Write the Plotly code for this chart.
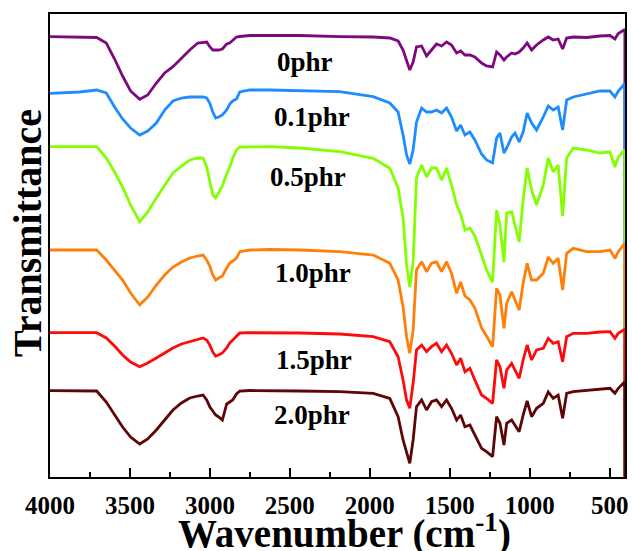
import plotly.graph_objects as go

# Wavenumber grid (cm^-1), shared by all spectra
wavenumber = [4000, 3940, 3815, 3708, 3648, 3596, 3546, 3496, 3439, 3389,
              3335, 3283, 3231, 3178, 3126, 3076, 3043, 3020, 3001, 2982,
              2964, 2945, 2922, 2895, 2876, 2857, 2834, 2813, 2751, 2626,
              2438, 2188, 1979, 1875, 1823, 1792, 1770, 1750, 1729, 1708,
              1676, 1645, 1614, 1583, 1551, 1520, 1489, 1457, 1432, 1405,
              1374, 1343, 1301, 1270, 1232, 1207, 1186, 1161, 1144, 1113,
              1092, 1066, 1041, 1016, 988, 957, 915, 884, 853, 822,
              794, 769, 728, 644, 561, 498, 467, 446, 405, 403]

# Offset transmittance values (arbitrary units)
t_0phr = [440.3, 440, 440, 439.5, 434, 418, 401, 386, 377.7, 382,
          394, 404, 410.3, 419, 427, 434, 435, 435, 430.3, 427,
          427, 427, 428, 433, 434, 437, 440, 440.5, 441.5, 441.5,
          441.5, 440.3, 440, 439, 436, 427, 417, 407, 415, 430,
          431, 421, 427, 433, 431, 435, 432, 424, 426, 422,
          422, 420, 414, 411, 410, 425, 422, 417, 420, 424,
          423, 425, 429, 434, 427, 432, 437, 440, 437, 438,
          428, 439, 440, 439.5, 441, 441.5, 438, 443.5, 447.5, -60]
t_01phr = [383.7, 384, 385, 387, 384, 370, 358, 349, 342, 346,
           354, 367, 376, 379, 380, 380, 380, 379, 374, 365,
           359, 360, 362, 367, 373, 376, 378, 385, 387, 387,
           386.5, 385.3, 380.3, 374, 365, 342, 322, 313, 327, 355,
           369, 365, 365, 367, 364, 369, 360, 346, 352, 342,
           345, 337, 323, 317, 314, 339, 344, 324, 329, 340,
           344, 335, 345, 364, 354, 347, 360, 371, 367, 370,
           347, 377, 380, 383, 386, 386, 380, 386, 393.5, -60]
t_05phr = [330.3, 330.3, 330.3, 330.3, 319, 305, 290, 272, 255.3, 265,
           279, 292, 304, 311, 317, 319, 319, 310, 297, 282,
           279, 284, 291, 303, 310, 319, 327, 330, 330.3, 330.3,
           329, 325.3, 318.7, 308.7, 289, 259, 212, 190, 215, 299,
           312, 300, 309, 309, 297, 309, 292, 272, 263, 247,
           249, 241, 222, 207, 195, 267, 252, 215, 264, 265,
           252, 235, 277, 309, 287, 272, 292, 319, 305, 312,
           261, 319, 329, 327, 324, 325, 310, 320, 327, -60]
t_10phr = [227, 227, 227, 227, 217, 207, 197, 184, 172, 180,
           192, 202, 210, 215, 219, 221, 222, 217, 211, 202,
           197, 199, 201, 209, 214, 216, 219, 225.3, 227, 227.5,
           227, 225.3, 222, 213.7, 197, 170.3, 140.3, 123.7, 147, 207,
           215.3, 205.3, 213.7, 215, 205.3, 215.3, 203.7, 183.7, 195, 181,
           177, 169, 149, 141, 130.3, 188.7, 182, 148.7, 173.7, 185.3,
           177, 167, 193.7, 213.7, 197, 197, 203.7, 220, 213.7, 218.7,
           187, 223.7, 228.7, 225.3, 225.3, 227, 218.7, 225.3, 233.7, -60]
t_15phr = [144.3, 144.3, 144.3, 144.3, 139, 131, 122, 115, 110.3, 114,
           119, 124, 129, 133, 135.3, 138, 139, 137, 132, 125,
           121, 122, 124, 129, 134, 137, 141, 144, 144.3, 144.3,
           144, 143, 140.3, 135.3, 120.3, 97, 77, 68.7, 93.7, 127,
           132, 125.3, 130.3, 133.7, 125.3, 132, 123.7, 112, 118.7, 105.3,
           108.7, 97, 82, 78.7, 73.7, 117, 110.3, 88.7, 107, 113.7,
           107, 98.7, 117, 132, 117, 127, 128.7, 138.7, 133.7, 135.3,
           115.3, 140.3, 143.7, 143.7, 145, 145.3, 138.7, 143.7, 147.7, -60]
t_20phr = [86.3, 86.3, 86.3, 86, 75, 62, 50, 40, 33, 38,
           47, 57, 67, 74, 79, 81, 82, 77, 70.3, 66,
           62, 60, 57, 73, 75, 77, 83, 86, 86.5, 86.5,
           86, 85.3, 83.7, 78.7, 60.3, 37, 23.7, 13.7, 37, 70.3,
           77, 67, 75.3, 77, 70.3, 77, 68.7, 57, 62, 50.3,
           52, 42, 28.7, 25.3, 20.3, 60.3, 53.7, 32, 53.7, 57,
           52, 45.3, 62, 76, 60.3, 68.7, 73.7, 85, 78.7, 82,
           58.7, 83.7, 85.3, 86.5, 88, 88.7, 83.7, 88.7, 95.3, -60]

series_names = ["0phr", "0.1phr", "0.5phr", "1.0phr", "1.5phr", "2.0phr"]
series_values = [t_0phr, t_01phr, t_05phr, t_10phr, t_15phr, t_20phr]
colors = ["#7D0A7D", "#1E8CFF", "#84FF00", "#FF7F0A", "#FF0A0A", "#5E0505"]

# label anchor positions (wavenumber, value)
label_x = [2407, 2363, 2388, 2357, 2350, 2363]
label_y = [415, 360, 300, 204, 117, 62]

fig = go.Figure()
for name, vals, col in zip(series_names, series_values, colors):
    fig.add_trace(go.Scatter(x=wavenumber, y=vals, mode="lines", name=name,
                             line=dict(color=col, width=2.8),
                             showlegend=False))

for name, lx, ly in zip(series_names, label_x, label_y):
    fig.add_annotation(x=lx, y=ly, xref="x", yref="y", text="<b>%s</b>" % name,
                       showarrow=False, xanchor="center", yanchor="middle",
                       font=dict(family="Liberation Serif", size=27, color="black"))

# axis titles placed as annotations for exact placement
fig.add_annotation(x=0.512, y=-0.118, xref="paper", yref="paper",
                   text="<b>Wavenumber (cm<sup>-1</sup>)</b>", showarrow=False,
                   xanchor="center", yanchor="middle",
                   font=dict(family="Liberation Serif", size=39, color="black"))
fig.add_annotation(x=-0.039, y=0.526, xref="paper", yref="paper",
                   text="<b>Transmittance</b>", showarrow=False, textangle=-90,
                   xanchor="center", yanchor="middle",
                   font=dict(family="Liberation Serif", size=40, color="black"))

fig.update_layout(
    width=632, height=551,
    margin=dict(l=50, r=7, t=14, b=74),
    paper_bgcolor="white", plot_bgcolor="white",
    font=dict(family="Liberation Serif", color="black"),
)
fig.update_xaxes(
    range=[4000, 404], showgrid=False, zeroline=False, automargin=False,
    showline=True, linecolor="black", linewidth=1.5, mirror=True,
    tickmode="linear", tick0=500, dtick=500,
    ticks="inside", ticklen=9, tickwidth=1.5, tickcolor="black",
    minor=dict(ticks="inside", ticklen=5, dtick=250, tick0=250,
               tickwidth=1.5, tickcolor="black"),
    ticklabelstandoff=5,
    tickfont=dict(family="Liberation Serif", size=25, color="black", weight="bold"),
)
fig.update_yaxes(
    range=[0, 463], showgrid=False, zeroline=False, showticklabels=False,
    automargin=False,
    showline=True, linecolor="black", linewidth=1.5, mirror=True, ticks="",
)

fig.write_html("out.html", config={"displayModeBar": False},
               post_script="document.body.style.margin='0px';document.body.style.overflow='hidden';")
